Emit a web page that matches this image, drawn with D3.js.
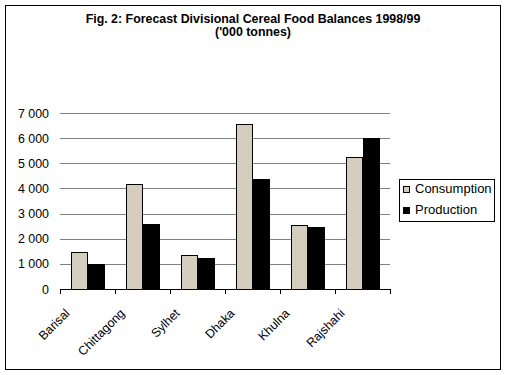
<!DOCTYPE html>
<html><head><meta charset="utf-8">
<script src="https://cdn.jsdelivr.net/npm/d3@7"></script>
<style>body{margin:0;background:#fff}svg{display:block}text{font-family:"Liberation Sans",Arial,sans-serif}</style>
</head><body>
<svg id="c" width="506" height="375"></svg>
<script>
const categories = ["Barisal","Chittagong","Sylhet","Dhaka","Khulna","Rajshahi"];
const seriesNames = ["Consumption","Production"];
const consumption = [1460,4180,1340,6560,2540,5250];
const production = [1000,2590,1235,4380,2470,6010];
const yTicks = [0,1000,2000,3000,4000,5000,6000,7000];
const colors = ["#d5cdbd","#000000"];

const svg = d3.select("#c");
svg.append("rect").attr("x",5.5).attr("y",5.5).attr("width",495).attr("height",364)
  .attr("fill","#fff").attr("stroke","#000");

svg.append("text").attr("x",253).attr("y",23).attr("text-anchor","middle")
  .attr("font-size",12.4).attr("font-weight","bold").text("Fig. 2: Forecast Divisional Cereal Food Balances 1998/99");
svg.append("text").attr("x",253).attr("y",36).attr("text-anchor","middle")
  .attr("font-size",12.4).attr("font-weight","bold").text("('000 tonnes)");

const x = d3.scaleBand().domain(categories).range([60,390]).paddingInner(0).paddingOuter(0);
const y = d3.scaleLinear().domain([0,7000]).range([289,113]);
const inner = d3.scaleBand().domain(seriesNames).range([0,x.bandwidth()]).paddingInner(0).paddingOuter(0.7);

// gridlines
svg.append("g").selectAll("line").data(yTicks.slice(1)).join("line")
  .attr("x1",60).attr("x2",390)
  .attr("y1",d=>Math.round(y(d))+0.5).attr("y2",d=>Math.round(y(d))+0.5)
  .attr("stroke","#808080");

// y labels
svg.append("g").selectAll("text").data(yTicks).join("text")
  .attr("x",49).attr("y",d=>y(d)+4.5).attr("text-anchor","end").attr("font-size",12.4)
  .text(d=>d3.format(",")(d).replace(/,/g," "));

// bars
const data = categories.map((c,i)=>({c, vals:[consumption[i],production[i]]}));
const g = svg.append("g");
data.forEach(d=>{
  d.vals.forEach((v,j)=>{
    const x0 = Math.round(x(d.c)+inner(seriesNames[j]));
    const w = Math.round(inner.bandwidth());
    g.append("rect").attr("x",x0+0.5).attr("y",Math.round(y(v))+0.5)
      .attr("width",w).attr("height",Math.round(y(0))-Math.round(y(v)))
      .attr("fill",colors[j]).attr("stroke","#000");
  });
});

// x axis
const xa = svg.append("g");
xa.append("line").attr("x1",60).attr("x2",390.5).attr("y1",289.5).attr("y2",289.5).attr("stroke","#000");
const bounds = categories.map(c=>x(c)).concat([x.range()[1]]);
xa.selectAll("line.t").data(bounds).join("line").attr("class","t")
  .attr("x1",d=>Math.round(d)+0.5).attr("x2",d=>Math.round(d)+0.5)
  .attr("y1",289).attr("y2",294).attr("stroke","#000");
xa.selectAll("text").data(categories).join("text")
  .attr("transform",d=>`translate(${x(d)+x.bandwidth()/2-17},${314}) rotate(-45)`)
  .attr("text-anchor","end").attr("font-size",12.4).text(d=>d);

// legend
const lg = svg.append("g");
lg.append("rect").attr("x",399.5).attr("y",179.5).attr("width",95).attr("height",42)
  .attr("fill","#fff").attr("stroke","#000");
seriesNames.forEach((s,i)=>{
  lg.append("rect").attr("x",403.5).attr("y",186.5+i*21).attr("width",6).attr("height",6)
    .attr("fill",colors[i]).attr("stroke","#000");
  lg.append("text").attr("x",415).attr("y",193+i*20.5).attr("font-size",13).text(s);
});
</script>
</body></html>
